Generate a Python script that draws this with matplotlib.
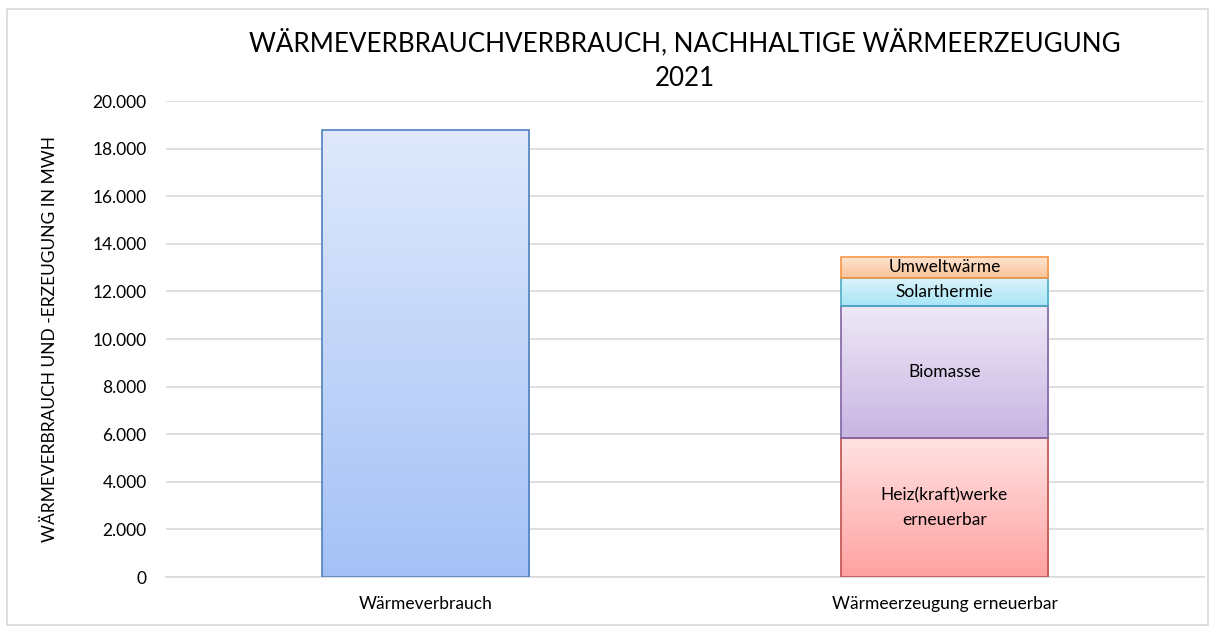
import matplotlib
matplotlib.use("Agg")
import matplotlib.pyplot as plt
import numpy as np
from matplotlib.colors import LinearSegmentedColormap
from matplotlib.patches import Rectangle

plt.rcParams['font.family'] = ['Lato', 'DejaVu Sans']

# ---- data ----
categories = ["Wärmeverbrauch", "Wärmeerzeugung erneuerbar"]
verbrauch = [18800, 0]
segment_names = ["Heiz(kraft)werke\nerneuerbar", "Biomasse", "Solarthermie", "Umweltwärme"]
segment_values = [5860, 5545, 1160, 880]
yticks = [0, 2000, 4000, 6000, 8000, 10000, 12000, 14000, 16000, 18000, 20000]
ytick_labels = ["0", "2.000", "4.000", "6.000", "8.000", "10.000", "12.000",
                "14.000", "16.000", "18.000", "20.000"]
title = "WÄRMEVERBRAUCHVERBRAUCH, NACHHALTIGE WÄRMEERZEUGUNG\n2021"
ylabel = "WÄRMEVERBRAUCH UND -ERZEUGUNG IN MWH"

# styles: (top colour, bottom colour, edge colour)
verbrauch_style = ("#dfe9fb", "#a4c1f6", "#4f81bd")
segment_styles = [
    ("#ffe3e3", "#ffa1a1", "#c0504d"),
    ("#eee8f6", "#c8b5e3", "#8064a2"),
    ("#dcf4fb", "#a7e5f6", "#4bacc6"),
    ("#fde5d1", "#fbc297", "#f79646"),
]

fig = plt.figure(figsize=(12.16, 6.33), dpi=100)
ax = fig.add_axes([166/1216, 1-577/633, (1204-166)/1216, (577-101)/633])

x = np.arange(len(categories))
width = 0.4


def gradient_fill(patch, top, bottom):
    x0, y0 = patch.get_x(), patch.get_y()
    w, h = patch.get_width(), patch.get_height()
    if h <= 0:
        return
    cmap = LinearSegmentedColormap.from_list("g", [bottom, top])
    grad = np.linspace(0, 1, 256).reshape(-1, 1)
    im = ax.imshow(grad, cmap=cmap, aspect='auto', origin='lower',
                   extent=[x0, x0 + w, y0, y0 + h], zorder=2,
                   interpolation='bicubic')
    im.set_clip_path(patch)


# Wärmeverbrauch bar
bars = ax.bar(x[:1], verbrauch[:1], width=width, facecolor='none',
              edgecolor=verbrauch_style[2], linewidth=1.2, zorder=3)
for p in bars:
    gradient_fill(p, verbrauch_style[0], verbrauch_style[1])

# stacked renewable bar
bottom = 0
for name, val, (top_c, bot_c, edge_c) in zip(segment_names, segment_values, segment_styles):
    b = ax.bar(x[1:2], [val], bottom=bottom, width=width, facecolor='none',
               edgecolor=edge_c, linewidth=1.2, zorder=3)
    for p in b:
        gradient_fill(p, top_c, bot_c)
        ax.text(p.get_x() + p.get_width() / 2, bottom + val / 2, name,
                ha='center', va='center', fontsize=12.5, color='#000000',
                zorder=4, linespacing=1.65)
    bottom += val

ax.set_xlim(-0.5, 1.5)
ax.set_ylim(0, 20000)
ax.set_yticks(yticks)
ax.set_yticklabels(ytick_labels, fontsize=12.5)
ax.set_xticks(x)
ax.set_xticklabels(categories, fontsize=12.5)
ax.tick_params(axis='both', length=0, colors='#000000')
ax.tick_params(axis='y', pad=14)
ax.tick_params(axis='x', pad=14)
ax.grid(axis='y', color='#d9d9d9', linewidth=1.2, zorder=0)
ax.set_axisbelow(True)
for s in ['top', 'right', 'left']:
    ax.spines[s].set_visible(False)
ax.spines['bottom'].set_color('#d9d9d9')
ax.spines['bottom'].set_linewidth(1.2)

ax.set_ylabel(ylabel, fontsize=12.5, labelpad=25)
fig.text(685/1216, 1-60/633, title, ha='center', va='center', fontsize=18.7,
         linespacing=1.5)

# outer chart border
fig.patches.append(Rectangle((7/1216, 1-625/633), (1208-7)/1216, (625-9)/633,
                             transform=fig.transFigure, fill=False,
                             edgecolor='#d9d9d9', linewidth=1.2))

fig.savefig("out.png", dpi=100)
